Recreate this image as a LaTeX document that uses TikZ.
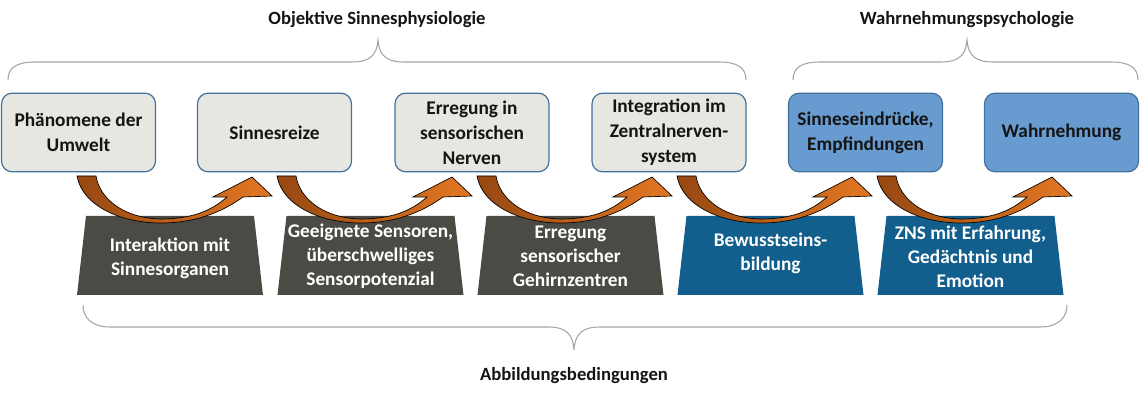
\documentclass[tikz,border=0pt]{standalone}
\usepackage{fontspec}
\setmainfont{Carlito}
\usetikzlibrary{calc}
\definecolor{lightfill}{RGB}{231,230,225}
\definecolor{boxline}{RGB}{65,113,156}
\definecolor{bluefill}{RGB}{104,155,207}
\definecolor{trapgray}{RGB}{75,74,69}
\definecolor{trapblue}{RGB}{18,94,140}
\definecolor{arrowdark}{RGB}{150,72,18}
\definecolor{arrowlight}{RGB}{228,120,35}
\definecolor{bracegray}{RGB}{165,165,165}
\definecolor{textdark}{RGB}{20,20,20}
\tikzset{
  topbox/.style={draw=boxline, line width=0.9pt, rounded corners=8pt,
    minimum width=115.5pt, minimum height=59pt, align=center, text=textdark,
    font=\fontsize{14.5}{18.75}\selectfont\bfseries, inner sep=2pt},
  greybox/.style={topbox, fill=lightfill},
  bluebox/.style={topbox, fill=bluefill},
  traptext/.style={align=center, text=white, font=\fontsize{14.5}{18}\selectfont\bfseries, inner sep=0pt},
  headlabel/.style={text=textdark, font=\fontsize{14}{16}\selectfont\bfseries, inner sep=0pt},
  bracepath/.style={draw=bracegray, line width=0.8pt},
  curvarrow/.style={draw=black, line width=0.5pt, left color=arrowdark, right color=arrowlight}
}
\newcommand\trapshape[2]{%
  \fill[#2] ($(#1)+(-93,39.5)$) -- ($(#1)+(-84,-39.5)$) -- ($(#1)+(84,-39.5)$) -- ($(#1)+(93,39.5)$) -- cycle;}
\newcommand\bentarrow[1]{%
  \begin{scope}[shift={(#1,0)}]
  \path[curvarrow] (77,176) .. controls (82,205) and (120,224) .. (165,223)
    .. controls (200,222) and (225,210) .. (243,197)
    -- (272,196) -- (252,177) -- (213,197) -- (227,197)
    .. controls (210,212) and (190,219) .. (160,219)
    .. controls (125,218) and (100,200) .. (96,176) -- cycle;
  \end{scope}}
\begin{document}
\begin{tikzpicture}[x=0.75pt,y=-0.75pt]
\useasboundingbox (0,0) rectangle (1140,398);

% header labels and braces
\node[headlabel] (h1) at (377,20) {Objektive Sinnesphysiologie};
\node[headlabel] (h2) at (967,20) {Wahrnehmungspsychologie};
\node[headlabel] (h3) at (574,376) {Abbildungsbedingungen};

\path[bracepath] (8,80) .. controls (8,68) and (16,62) .. (35,62) -- (352,62)
  .. controls (370,62) and (377,55) .. (378,40)
  .. controls (379,55) and (386,62) .. (404,62) -- (719,62)
  .. controls (738,62) and (746,68) .. (746,80);
\path[bracepath] (793,80) .. controls (793,68) and (801,62) .. (820,62) -- (941,62)
  .. controls (959,62) and (966,55) .. (967,40)
  .. controls (968,55) and (975,62) .. (993,62) -- (1111,62)
  .. controls (1130,62) and (1138,68) .. (1138,80);
\path[bracepath] (83,305) .. controls (83,317) and (91,327) .. (110,327) -- (548,327)
  .. controls (566,327) and (573,334) .. (574,350)
  .. controls (575,334) and (582,327) .. (600,327) -- (1040,327)
  .. controls (1059,327) and (1067,317) .. (1067,305);

% top boxes
\node[greybox] (b1) at (78.5,132.5) {Phänomene der\\Umwelt};
\node[greybox] (b2) at (274.5,132.5) {Sinnesreize};
\node[greybox] (b3) at (472,132.5) {Erregung in\\sensorischen\\Nerven};
\node[greybox] (b4) at (669,132.5) {Integration im\\Zentralnerven-\\system};
\node[bluebox] (b5) at (865.5,132.5) {Sinneseindrücke,\\Empfindungen};
\node[bluebox] (b6) at (1061.5,132.5) {Wahrnehmung};

% trapezoids
\coordinate (c1) at (170,255.5);
\coordinate (c2) at (370.5,255.5);
\coordinate (c3) at (570.5,255.5);
\coordinate (c4) at (770.5,255.5);
\coordinate (c5) at (970.5,255.5);
\trapshape{c1}{trapgray}
\trapshape{c2}{trapgray}
\trapshape{c3}{trapgray}
\trapshape{c4}{trapblue}
\trapshape{c5}{trapblue}
\node[traptext] (t1) at ($(c1)+(0,3)$) {Interaktion mit\\Sinnesorganen};
\node[traptext] (t2) at ($(c2)+(0,1)$) {Geeignete Sensoren,\\überschwelliges\\Sensorpotenzial};
\node[traptext] (t3) at ($(c3)+(0,1)$) {Erregung\\sensorischer\\Gehirnzentren};
\node[traptext] (t4) at ($(c4)+(0,-2)$) {Bewusstseins-\\bildung};
\node[traptext] (t5) at ($(c5)+(0,1)$) {ZNS mit Erfahrung,\\Gedächtnis und\\Emotion};

% curved arrows
\bentarrow{0}
\bentarrow{200}
\bentarrow{400}
\bentarrow{600}
\bentarrow{800}
\end{tikzpicture}
\end{document}
